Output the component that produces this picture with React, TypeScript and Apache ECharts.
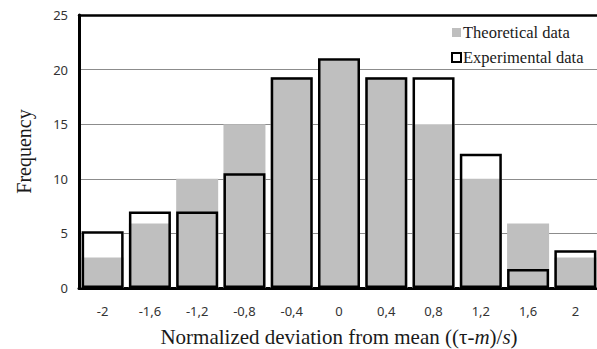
import React, { useEffect, useRef } from "react";
import * as echarts from "echarts";

// Bin centres of the normalized deviation
const categories = ["-2", "-1,6", "-1,2", "-0,8", "-0,4", "0", "0,4", "0,8", "1,2", "1,6", "2"];
// Expected frequencies from the normal model
const theoretical = [2.8, 5.9, 10, 15, 19.3, 20.8, 19.3, 15, 10, 5.9, 2.8];
// Observed frequencies
const experimental = [5.2, 7, 7, 10.5, 19.3, 21.05, 19.3, 19.3, 12.3, 1.75, 3.45];

const SERIF = "Liberation Serif, serif";
const SANS = "Noto Sans";

export default function App() {
  const ref = useRef<HTMLDivElement>(null);

  useEffect(() => {
    document.body.style.margin = "0";
    if (!ref.current) return;
    const chart = echarts.init(ref.current, null, { renderer: "svg" });
    const barWidth = 42;
    chart.setOption({
      animation: false,
      backgroundColor: "#ffffff",
      grid: { left: 79, top: 15, width: 520, height: 273, containLabel: false, outerBoundsMode: "none" },
      legend: {
        orient: "vertical",
        left: 446,
        top: 19,
        itemWidth: 9,
        itemHeight: 9,
        itemGap: 8,
        selectedMode: false,
        textStyle: { fontFamily: SERIF, fontSize: 16.5, color: "#1a1a1a", padding: [0, 0, 0, -3] },
        data: [
          { name: "Theoretical data", icon: "rect", itemStyle: { color: "#bfbfbf", borderWidth: 0 } },
          {
            name: "Experimental data",
            icon: "rect",
            itemStyle: { color: "#ffffff", borderColor: "#000000", borderWidth: 2 },
          },
        ],
      },
      xAxis: [
        {
          type: "category",
          data: categories,
          axisLine: { show: true, lineStyle: { color: "#000000", width: 3 } },
          axisTick: { show: false },
          axisLabel: { fontFamily: SANS, fontSize: 13, color: "#333333", margin: 16 },
          name: "Normalized deviation from mean ((τ-{i|m})/{i|s})",
          nameLocation: "middle",
          nameGap: 38,
          nameTextStyle: {
            fontFamily: SERIF,
            fontSize: 21,
            color: "#1a1a1a",
            rich: { i: { fontFamily: SERIF, fontSize: 21, fontStyle: "italic", color: "#1a1a1a" } },
          },
        },
        {
          type: "category",
          data: categories,
          position: "top",
          axisLine: { show: true, lineStyle: { color: "#000000", width: 2.5 } },
          axisTick: { show: false },
          axisLabel: { show: false },
        },
      ],
      yAxis: {
        type: "value",
        min: 0,
        max: 25,
        interval: 5,
        axisLine: { show: true, lineStyle: { color: "#000000", width: 3 } },
        axisTick: { show: false },
        axisLabel: { fontFamily: SANS, fontSize: 13, color: "#333333", margin: 11 },
        splitLine: { show: true, lineStyle: { color: "#8c8c8c", width: 1 } },
        name: "Frequency",
        nameLocation: "middle",
        nameGap: 45,
        nameRotate: 90,
        nameTextStyle: { fontFamily: SERIF, fontSize: 20, color: "#1a1a1a" },
      },
      series: [
        {
          // white body of the observed bars, hides gridlines behind them
          name: "Experimental fill",
          type: "bar",
          data: experimental,
          barWidth,
          barGap: "-100%",
          z: 1,
          itemStyle: { color: "#ffffff" },
          silent: true,
        },
        {
          name: "Theoretical data",
          type: "bar",
          data: theoretical,
          barWidth,
          barGap: "-100%",
          z: 2,
          itemStyle: { color: "#bfbfbf" },
        },
        {
          name: "Experimental data",
          type: "bar",
          data: experimental,
          barWidth,
          barGap: "-100%",
          z: 3,
          itemStyle: { color: "rgba(0,0,0,0)", borderColor: "#000000", borderWidth: 2.5 },
        },
      ],
    });
    return () => chart.dispose();
  }, []);

  return <div ref={ref} style={{ width: 597, height: 349 }} />;
}
